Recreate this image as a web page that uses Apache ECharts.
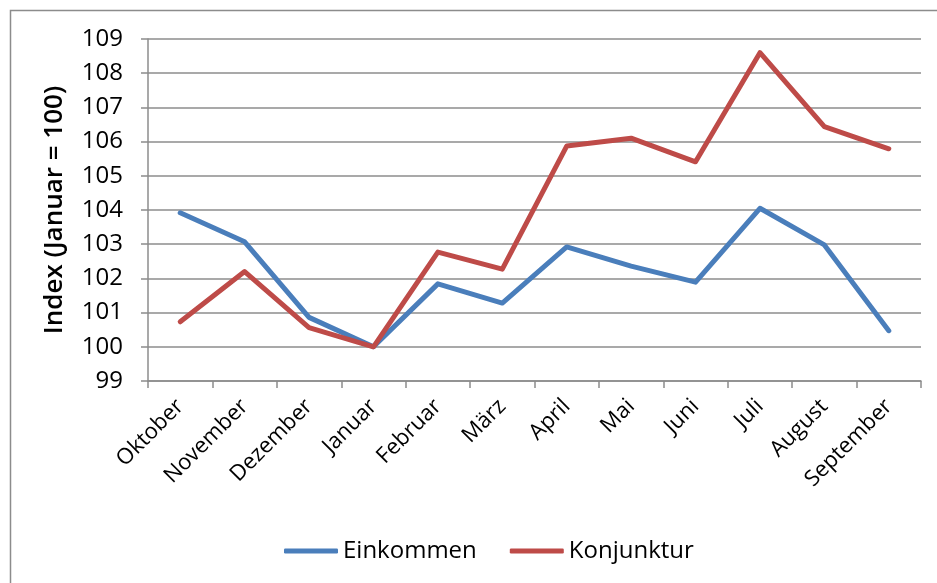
<!DOCTYPE html>
<html>
<head>
<meta charset="utf-8">
<script src="https://cdn.jsdelivr.net/npm/echarts@6/dist/echarts.min.js"></script>
<style>
  html, body { margin: 0; padding: 0; background: #fff; }
  #chart { width: 937px; height: 583px; }
</style>
</head>
<body>
<div id="chart"></div>
<script>
const months = ["Oktober", "November", "Dezember", "Januar", "Februar", "März",
  "April", "Mai", "Juni", "Juli", "August", "September"];
const einkommen = [103.92, 103.07, 100.86, 100, 101.84, 101.28, 102.92, 102.36, 101.89, 104.05, 102.98, 100.47];
const konjunktur = [100.73, 102.2, 100.56, 100, 102.77, 102.27, 105.87, 106.1, 105.41, 108.6, 106.44, 105.79];

const myChart = echarts.init(document.getElementById("chart"));
const font = "Open Sans";

const option = {
  backgroundColor: "#fff",
  animation: false,
  graphic: [
    {
      type: "rect",
      shape: { x: 10.5, y: 10.5, width: 940, height: 600 },
      style: { fill: "none", stroke: "#8c8c8c", lineWidth: 1.5 },
      silent: true,
    },
  ],
  grid: { left: 148, right: 16, top: 39, bottom: 202 },
  legend: {
    top: 534,
    left: 279,
    itemWidth: 54,
    itemHeight: 5,
    itemGap: 33,
    icon: "roundRect",
    textStyle: { fontFamily: font, fontSize: 24, color: "#000" },
    data: ["Einkommen", "Konjunktur"],
  },
  xAxis: {
    type: "category",
    data: months,
    boundaryGap: true,
    axisLine: { lineStyle: { color: "#8c8c8c", width: 1.5 } },
    axisTick: { show: true, length: 7, lineStyle: { color: "#8c8c8c", width: 1.5 } },
    axisLabel: {
      rotate: 45,
      margin: 22,
      interval: 0,
      fontFamily: font,
      fontSize: 22,
      color: "#000",
    },
  },
  yAxis: {
    type: "value",
    min: 99,
    max: 109,
    interval: 1,
    name: "Index (Januar = 100)",
    nameLocation: "middle",
    nameGap: 80,
    nameTextStyle: { fontFamily: font, fontSize: 26, fontWeight: 600, color: "#000" },
    axisLine: { show: true, lineStyle: { color: "#8c8c8c", width: 1.5 } },
    axisTick: { show: true, length: 7, lineStyle: { color: "#8c8c8c", width: 1.5 } },
    axisLabel: { margin: 25, fontFamily: font, fontSize: 24, color: "#000" },
    splitLine: { lineStyle: { color: "#8c8c8c", width: 1.5 } },
  },
  series: [
    {
      name: "Einkommen",
      type: "line",
      data: einkommen,
      symbol: "none",
      lineStyle: { color: "#4a7ebb", width: 5, cap: "round", join: "round" },
      itemStyle: { color: "#4a7ebb" },
    },
    {
      name: "Konjunktur",
      type: "line",
      data: konjunktur,
      symbol: "none",
      lineStyle: { color: "#be4b48", width: 5, cap: "round", join: "round" },
      itemStyle: { color: "#be4b48" },
    },
  ],
};

myChart.setOption(option);
</script>
</body>
</html>
